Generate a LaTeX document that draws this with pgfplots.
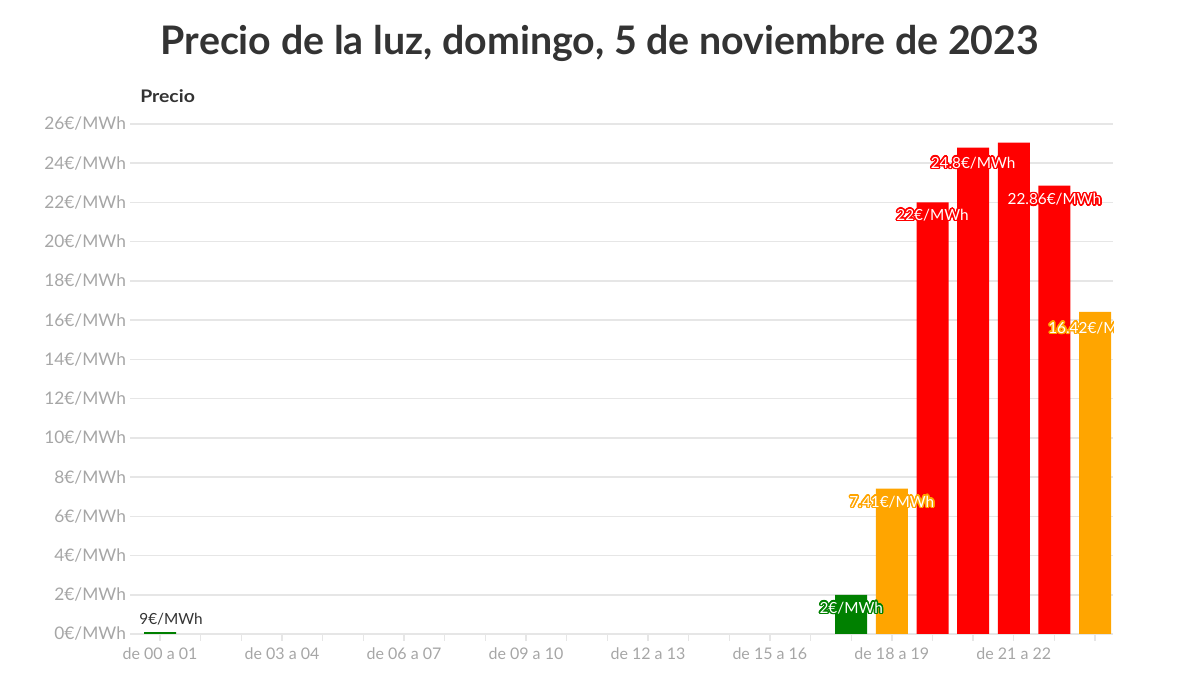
\documentclass[border=0pt]{standalone}
\usepackage{fontspec}
\setmainfont{Lato}
\newfontfamily\widefont[FakeStretch=1.12]{Lato}
\usepackage{pgfplots}
\pgfplotsset{compat=1.18}
\usepackage{contour}
\contourlength{1.1pt}
\contournumber{16}

\definecolor{cgreen}{HTML}{008000}
\definecolor{corange}{HTML}{FFA500}
\definecolor{cred}{HTML}{FF0000}
\definecolor{titlegray}{HTML}{333333}
\definecolor{tickgray}{HTML}{A6A6A6}
\definecolor{gridgray}{HTML}{E6E6E6}

% white text with a coloured outline
\newcommand{\barlab}[2]{\contour{#1}{\textcolor{white}{#2}}}

\begin{document}
\begin{tikzpicture}
\path[use as bounding box] (0,0) rectangle (900pt,506.25pt);

\node[font=\bfseries\fontsize{29.5}{36}\selectfont, text=titlegray, anchor=base]
  at (450pt,465pt) {Precio de la luz, domingo, 5 de noviembre de 2023};
\node[font=\widefont\bfseries\fontsize{13}{15}\selectfont, text=titlegray, anchor=base west, inner sep=0pt]
  at (105pt,429pt) {Precio};

\begin{axis}[
    at={(97.5pt,30.75pt)}, anchor=south west,
    scale only axis, width=737.25pt, height=382.5pt,
    xmin=-0.74, xmax=23.44, ymin=0, ymax=26,
    axis line style={draw=none},
    ymajorgrids=true,
    grid style={gridgray, line width=1.2pt},
    ytick={0,2,...,26},
    yticklabels={0€/MWh,2€/MWh,4€/MWh,6€/MWh,8€/MWh,10€/MWh,12€/MWh,14€/MWh,16€/MWh,18€/MWh,20€/MWh,22€/MWh,24€/MWh,26€/MWh},
    xtick={0,3,...,21},
    xticklabels={de 00 a 01,de 03 a 04,de 06 a 07,de 09 a 10,de 12 a 13,de 15 a 16,de 18 a 19,de 21 a 22},
    minor xtick={0,...,23},
    tick align=outside,
    xtick pos=bottom,
    x tick style={gridgray, line width=1pt},
    minor x tick style={gridgray, line width=1pt},
    major tick length=5pt, minor tick length=5pt,
    y tick style={draw=none},
    yticklabel style={font=\fontsize{13}{16}\selectfont, text=tickgray, xshift=5.5pt},
    xticklabel style={font=\fontsize{12}{15}\selectfont, text=tickgray, yshift=-2pt},
    ybar, bar width=24pt, bar shift=0pt,
]
\addplot[fill=cgreen, draw=none] coordinates {(0,0.09) (17,2)};
\addplot[fill=corange, draw=none] coordinates {(18,7.41) (23,16.42)};
\addplot[fill=cred, draw=none] coordinates {(19,22) (20,24.8) (21,25.05) (22,22.86)};

\begin{scope}[every node/.style={font=\fontsize{11.5}{14}\selectfont, inner sep=0pt}]
\node[text=titlegray] at (axis cs:0.27,0.77) {9€/MWh};
\node at (axis cs:17,2) [yshift=-10.5pt] {\barlab{cgreen}{2€/MWh}};
\node at (axis cs:18,7.41) [yshift=-10.5pt] {\barlab{corange}{7.41€/MWh}};
\node at (axis cs:19,22) [yshift=-10pt] {\barlab{cred}{22€/MWh}};
\node at (axis cs:20,24.8) [yshift=-12pt] {\barlab{cred}{24.8€/MWh}};
\node at (axis cs:22,22.86) [yshift=-11pt] {\barlab{cred}{22.86€/MWh}};
\node at (axis cs:23,16.42) [yshift=-12.5pt] {\barlab{corange}{16.42€/MWh}};
\end{scope}
\end{axis}
\end{tikzpicture}
\end{document}
